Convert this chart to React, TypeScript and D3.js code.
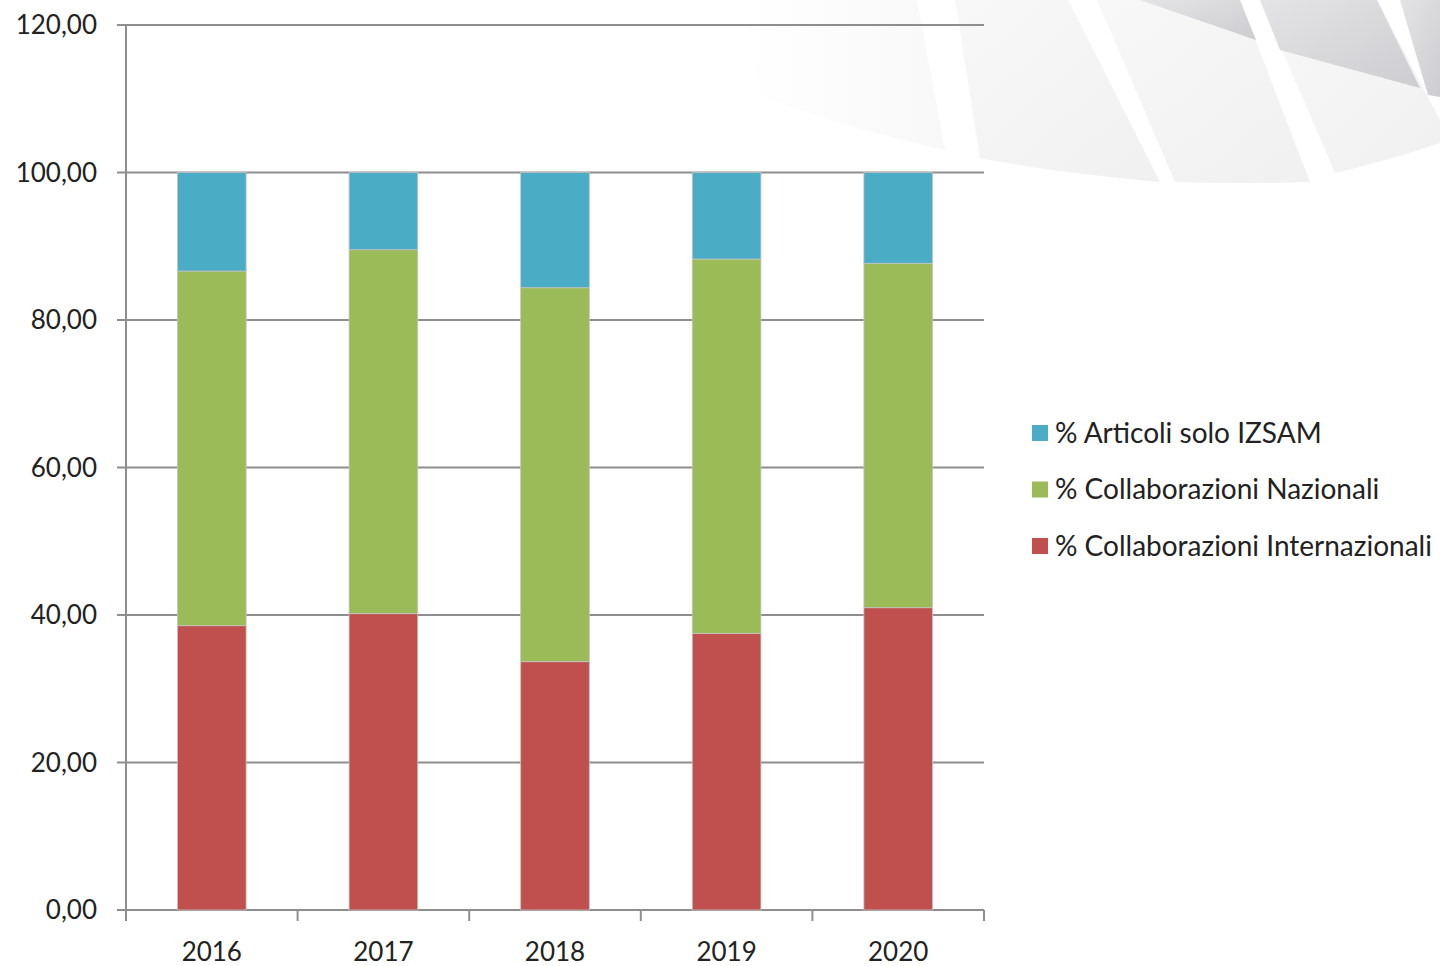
import React from "react";
import * as d3 from "d3";

const years = ["2016", "2017", "2018", "2019", "2020"];
const internazionali = [38.55, 40.18, 33.67, 37.52, 40.99];
const nazionali = [48.09, 49.35, 50.71, 50.75, 46.70];
const soloIzsam = [13.36, 10.47, 15.62, 11.73, 12.31];
const yTicks = [0, 20, 40, 60, 80, 100, 120];

const seriesNames = [
  "% Collaborazioni Internazionali",
  "% Collaborazioni Nazionali",
  "% Articoli solo IZSAM",
];
const seriesColors = ["#C0504D", "#9BBB59", "#4BACC6"];

const W = 1440;
const H = 966;
const left = 126;
const right = 984;
const top = 25;
const bottom = 910;
const FONT = "Lato, 'Noto Sans', sans-serif";
const AXIS = "#8e8e8e";

export default function App() {
  const x = d3.scaleBand<string>().domain(years).range([left, right]).paddingInner(0).paddingOuter(0);
  const y = d3.scaleLinear().domain([0, 120]).range([bottom, top]);
  const rows = years.map((yr, i) => ({
    year: yr,
    s0: internazionali[i],
    s1: nazionali[i],
    s2: soloIzsam[i],
  }));
  const stack = d3.stack<any>().keys(["s0", "s1", "s2"]);
  const stacked = stack(rows);
  const bw = x.bandwidth() / 2.5;
  const fmt = (v: number) => d3.format(".2f")(v).replace(".", ",");
  const boundaries = [...years.map((yr) => x(yr) as number), right];

  const legendOrder = [2, 1, 0];

  return (
    <svg
      width={W}
      height={H}
      style={{ position: "absolute", left: 0, top: 0, background: "#fff" }}
      fontFamily={FONT}
    >
      <defs>
        <linearGradient id="gDark" x1="0" y1="0" x2="1" y2="1">
          <stop offset="0" stopColor="#e4e4e6" />
          <stop offset="1" stopColor="#cdcdd1" />
        </linearGradient>
        <linearGradient id="gLight" x1="0" y1="0" x2="1" y2="1">
          <stop offset="0" stopColor="#f8f8f8" />
          <stop offset="1" stopColor="#f0f0f0" />
        </linearGradient>
        <linearGradient id="gFaint" x1="0" y1="0" x2="1" y2="0">
          <stop offset="0" stopColor="#ffffff" />
          <stop offset="1" stopColor="#f8f8f8" />
        </linearGradient>
      </defs>
      {/* decorative watermark */}
      <g>
        <path d="M740,0 L917,0 L945,150 Q850,130 760,95 Z" fill="url(#gFaint)" />
        <path d="M955,0 L1068,0 L1160,182 Q1050,172 980,158 Z" fill="url(#gLight)" />
        <path d="M1097,0 L1240,0 L1310,182 Q1240,184 1175,182 Z" fill="url(#gLight)" />
        <path d="M1140,0 L1240,0 L1256,40 Z" fill="url(#gDark)" />
        <path d="M1260,0 L1377,0 L1440,120 L1440,143 Q1390,160 1335,173 Z" fill="url(#gLight)" />
        <path d="M1260,0 L1377,0 L1420,88 L1280,50 Z" fill="url(#gDark)" />
        <path d="M1400,0 L1440,0 L1440,97 L1428,95 Z" fill="url(#gDark)" />
      </g>

      {/* gridlines */}
      {yTicks.map((t) => (
        <line key={t} x1={117} x2={right} y1={y(t)} y2={y(t)} stroke={AXIS} strokeWidth={2} />
      ))}
      {/* y axis */}
      <line x1={left} x2={left} y1={top} y2={bottom} stroke={AXIS} strokeWidth={2} />
      {/* x axis ticks */}
      {boundaries.map((b, i) => (
        <line key={i} x1={b} x2={b} y1={bottom} y2={bottom + 11} stroke={AXIS} strokeWidth={2} />
      ))}

      {/* bars */}
      {stacked.map((s, si) => (
        <g key={si} fill={seriesColors[si]}>
          {s.map((d, i) => (
            <rect
              key={i}
              x={(x(years[i]) as number) + (x.bandwidth() - bw) / 2}
              y={y(d[1])}
              width={bw}
              height={y(d[0]) - y(d[1])}
              stroke="#c4c4c4"
              strokeWidth={0.8}
            />
          ))}
        </g>
      ))}

      {/* y labels */}
      {yTicks.map((t) => (
        <text key={t} x={97} y={y(t) + 9} textAnchor="end" fontSize={26} fill="#222">
          {fmt(t)}
        </text>
      ))}
      {/* x labels */}
      {years.map((yr) => (
        <text
          key={yr}
          x={(x(yr) as number) + x.bandwidth() / 2}
          y={961}
          textAnchor="middle"
          fontSize={26}
          fill="#222"
        >
          {yr}
        </text>
      ))}

      {/* legend */}
      {legendOrder.map((si, k) => {
        const cy = 433 + k * 56.5;
        return (
          <g key={si}>
            <rect x={1032} y={cy - 8} width={16} height={16} fill={seriesColors[si]} />
            <text x={1055} y={cy + 9.5} fontSize={28} fill="#222">
              {seriesNames[si]}
            </text>
          </g>
        );
      })}
    </svg>
  );
}
